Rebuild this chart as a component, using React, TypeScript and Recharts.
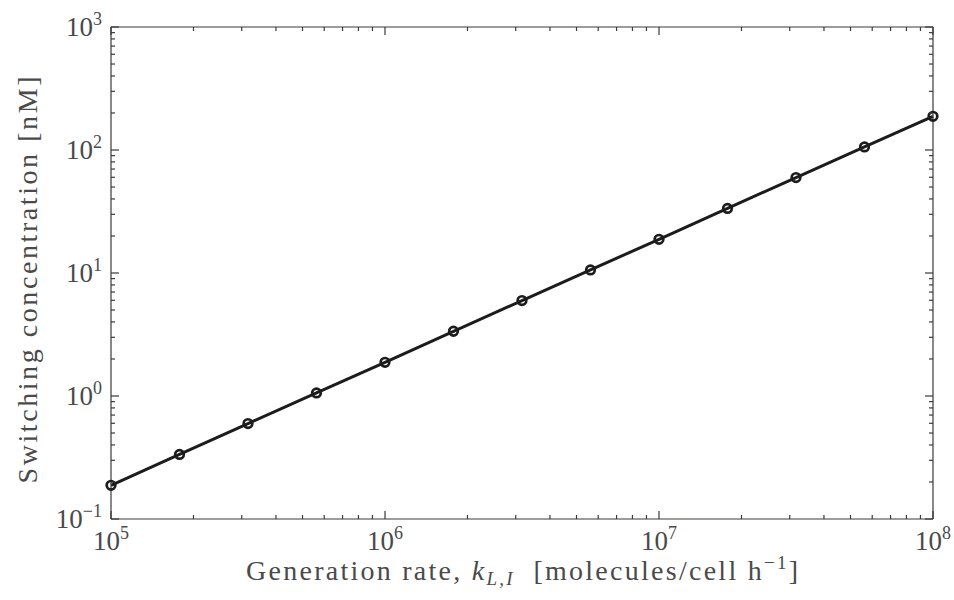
import React from 'react';
import { LineChart, Line, XAxis, YAxis } from 'recharts';

// Data (log-log)
const generationRate = [1e5, 1.778e5, 3.162e5, 5.623e5, 1e6, 1.778e6, 3.162e6, 5.623e6, 1e7, 1.778e7, 3.162e7, 5.623e7, 1e8];
const switchingConc = [0.188, 0.335, 0.597, 1.06, 1.88, 3.36, 5.97, 10.6, 18.8, 33.5, 59.7, 106, 188];

const xMajorTicks = [1e5, 1e6, 1e7, 1e8];
const yMajorTicks = [0.1, 1, 10, 100, 1000];

const withMinor = (majors: number[]) => {
  const out: number[] = [];
  majors.forEach((m, i) => {
    out.push(m);
    if (i < majors.length - 1) {
      for (let k = 2; k <= 9; k++) out.push(m * k);
    }
  });
  return out;
};

const xTicks = withMinor(xMajorTicks);
const yTicks = withMinor(yMajorTicks);

const data = generationRate.map((x, i) => ({ x, y: switchingConc[i] }));

const AXIS = '#3a3a3a';
const TEXT = '#4a4a4a';
const FONT = '"Liberation Serif", "Times New Roman", serif';

const isMajor = (v: number) => {
  const l = Math.log10(v);
  return Math.abs(l - Math.round(l)) < 1e-6;
};
const expStr = (v: number) => {
  const e = Math.round(Math.log10(v));
  return e < 0 ? '\u2212' + Math.abs(e) : String(e);
};

const BottomTick = (props: any) => {
  const { x, y, payload } = props;
  const v = payload.value;
  const major = isMajor(v);
  return (
    <g>
      <line x1={x} y1={y} x2={x} y2={y - (major ? 8 : 4)} stroke={AXIS} strokeWidth={1.2} />
      {major && (
        <text x={x} y={y + 31} textAnchor="middle" fill={TEXT} fontFamily={FONT} fontSize={27}>
          <tspan>10</tspan>
          <tspan dy={-11} fontSize={18}>{expStr(v)}</tspan>
        </text>
      )}
    </g>
  );
};

const TopTick = (props: any) => {
  const { x, y, payload } = props;
  const major = isMajor(payload.value);
  return <line x1={x} y1={y} x2={x} y2={y + (major ? 8 : 4)} stroke={AXIS} strokeWidth={1.2} />;
};

const LeftTick = (props: any) => {
  const { x, y, payload } = props;
  const v = payload.value;
  const major = isMajor(v);
  return (
    <g>
      <line x1={x} y1={y} x2={x + (major ? 8 : 4)} y2={y} stroke={AXIS} strokeWidth={1.2} />
      {major && (
        <text x={x - 9} y={y + 8.5} textAnchor="end" fill={TEXT} fontFamily={FONT} fontSize={27}>
          <tspan>10</tspan>
          <tspan dy={-11} fontSize={18}>{expStr(v)}</tspan>
        </text>
      )}
    </g>
  );
};

const RightTick = (props: any) => {
  const { x, y, payload } = props;
  const major = isMajor(payload.value);
  return <line x1={x} y1={y} x2={x - (major ? 8 : 4)} y2={y} stroke={AXIS} strokeWidth={1.2} />;
};

const XLabel = (props: any) => {
  const vb = props.viewBox;
  const cx = vb.x + vb.width / 2;
  return (
    <text
      x={cx}
      y={vb.y + 61}
      textAnchor="middle"
      fill={TEXT}
      fontFamily={FONT}
      fontSize={28}
      textLength={552}
      lengthAdjust="spacing"
    >
      <tspan>Generation rate, </tspan>
      <tspan fontStyle="italic">k</tspan>
      <tspan fontStyle="italic" fontSize={19} dy={5}>L,I</tspan>
      <tspan dy={-5}>{'\u00a0\u00a0[molecules/cell h'}</tspan>
      <tspan fontSize={19} dy={-11}>{'\u22121'}</tspan>
      <tspan dy={11}>]</tspan>
    </text>
  );
};

const YLabel = (props: any) => {
  const vb = props.viewBox;
  const cy = vb.y + vb.height / 2 + 7;
  const cx = 37;
  return (
    <text
      x={cx}
      y={cy}
      textAnchor="middle"
      fill={TEXT}
      fontFamily={FONT}
      fontSize={28}
      textLength={407}
      lengthAdjust="spacing"
      transform={`rotate(-90 ${cx} ${cy})`}
    >
      Switching concentration [nM]
    </text>
  );
};

const Marker = (props: any) => {
  const { cx, cy } = props;
  if (cx == null || cy == null) return null;
  return <circle cx={cx} cy={cy} r={4.3} fill="none" stroke="#1c1c1c" strokeWidth={2.7} />;
};

export default function App() {
  return (
    <div style={{ position: 'absolute', left: 0, top: 0, width: 954, height: 600, background: '#fff' }}>
      <LineChart
        width={954}
        height={600}
        data={data}
        margin={{ top: 26, right: 20, bottom: 80, left: 110 }}
      >
        <XAxis
          xAxisId="bottom"
          dataKey="x"
          type="number"
          scale="log"
          domain={[1e5, 1e8]}
          ticks={xTicks}
          interval={0}
          height={1}
          tickSize={0}
          tickMargin={0}
          tickLine={false}
          tick={<BottomTick />}
          axisLine={{ stroke: AXIS, strokeWidth: 1.2 }}
          label={<XLabel />}
        />
        <XAxis
          xAxisId="top"
          orientation="top"
          dataKey="x"
          type="number"
          scale="log"
          domain={[1e5, 1e8]}
          ticks={xTicks}
          interval={0}
          height={1}
          tickSize={0}
          tickMargin={0}
          tickLine={false}
          tick={<TopTick />}
          axisLine={{ stroke: AXIS, strokeWidth: 1.2 }}
        />
        <YAxis
          yAxisId="left"
          dataKey="y"
          type="number"
          scale="log"
          domain={[0.1, 1000]}
          ticks={yTicks}
          interval={0}
          width={1}
          tickSize={0}
          tickMargin={0}
          tickLine={false}
          tick={<LeftTick />}
          axisLine={{ stroke: AXIS, strokeWidth: 1.2 }}
          label={<YLabel />}
        />
        <YAxis
          yAxisId="right"
          orientation="right"
          dataKey="y"
          type="number"
          scale="log"
          domain={[0.1, 1000]}
          ticks={yTicks}
          interval={0}
          width={1}
          tickSize={0}
          tickMargin={0}
          tickLine={false}
          tick={<RightTick />}
          axisLine={{ stroke: AXIS, strokeWidth: 1.2 }}
        />
        <Line
          xAxisId="bottom"
          yAxisId="left"
          dataKey="y"
          type="linear"
          stroke="#1c1c1c"
          strokeWidth={3}
          dot={<Marker />}
          activeDot={false}
          isAnimationActive={false}
        />
      </LineChart>
    </div>
  );
}
